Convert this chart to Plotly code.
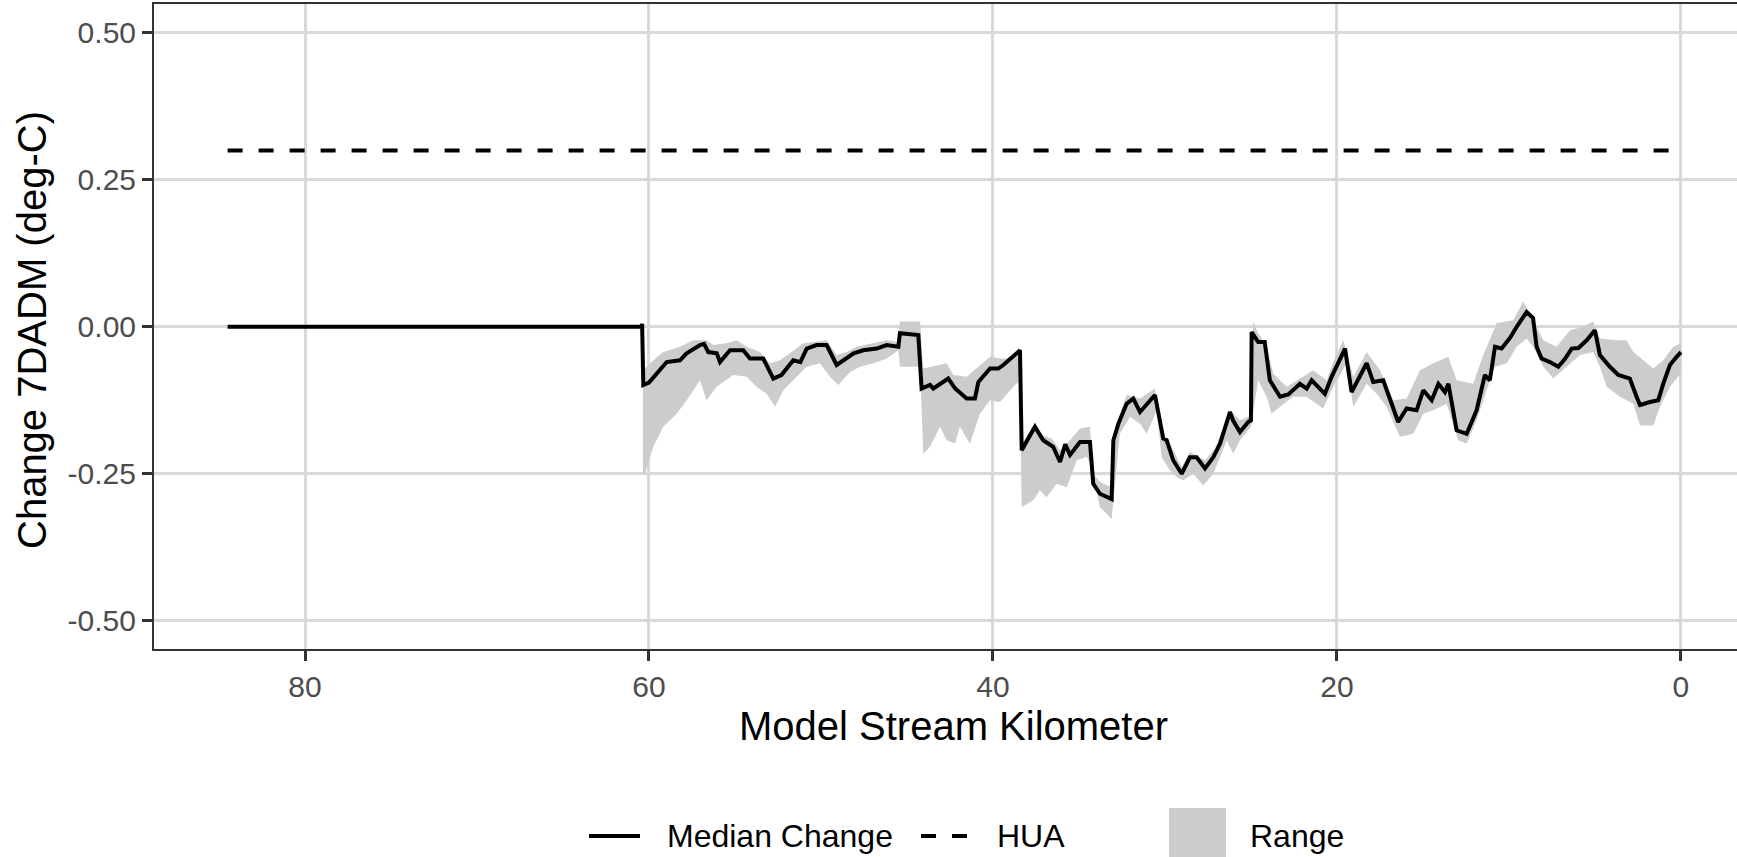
import plotly.graph_objects as go

# ---------------- data ----------------
median_km = [84.5, 60.42, 60.40, 60.33, 60.0, 59.46, 58.97, 58.2, 57.81, 57.03, 56.8, 56.55, 56.06,
             55.87, 55.29, 54.52, 54.13, 53.36, 52.77, 52.3, 51.61, 51.2, 50.83, 50.25, 49.67,
             49.09, 48.5, 48.1, 47.54, 46.76, 46.18, 45.5, 45.41, 44.34, 44.15, 43.66, 43.47,
             42.6, 42.2, 41.53, 41.05, 40.85, 40.17, 39.69, 39.4, 38.82, 38.43, 38.33, 37.56,
             37.08, 36.5, 36.1, 35.8, 35.52, 34.94, 34.36, 34.17, 33.78, 33.1, 33.0, 32.71,
             32.23, 31.84, 31.45, 31.06, 30.58, 30.1, 29.9, 29.52, 29.03, 28.55, 28.16, 27.67,
             27.19, 26.8, 26.22, 26.03, 25.64, 25.16, 25.0, 24.96, 24.58, 24.2, 23.9, 23.31,
             22.83, 22.15, 21.76, 21.47, 20.7, 20.31, 19.92, 19.53, 19.15, 18.66, 18.27, 17.89,
             17.31, 16.44, 15.95, 15.37, 14.98, 14.49, 14.1, 13.72, 13.52, 13.04, 12.46, 11.88,
             11.4, 11.11, 10.81, 10.43, 9.94, 9.55, 8.97, 8.6, 8.39, 8.1, 7.62, 7.13, 6.75, 6.35,
             5.96, 5.48, 5.0, 4.71, 4.13, 3.64, 2.97, 2.58, 2.38, 1.8, 1.32, 1.03, 0.64, 0.25, 0.0]
median_val = [0.0, 0.0, 0.005, -0.099, -0.095, -0.077, -0.06, -0.057, -0.045, -0.031, -0.029, -0.043, -0.045,
              -0.06, -0.04, -0.04, -0.054, -0.054, -0.088, -0.082, -0.057, -0.06, -0.037, -0.031, -0.031,
              -0.065, -0.054, -0.045, -0.04, -0.037, -0.031, -0.034, -0.011, -0.014, -0.105, -0.099, -0.105,
              -0.088, -0.105, -0.122, -0.122, -0.094, -0.071, -0.071, -0.065, -0.051, -0.04, -0.21, -0.17,
              -0.193, -0.204, -0.23, -0.2, -0.218, -0.196, -0.196, -0.267, -0.284, -0.293, -0.193, -0.165,
              -0.131, -0.122, -0.145, -0.131, -0.116, -0.19, -0.193, -0.227, -0.25, -0.222, -0.222, -0.241,
              -0.222, -0.199, -0.145, -0.16, -0.179, -0.162, -0.159, -0.009, -0.026, -0.026, -0.091, -0.119,
              -0.115, -0.097, -0.105, -0.091, -0.114, -0.085, -0.062, -0.037, -0.111, -0.085, -0.062, -0.094,
              -0.091, -0.162, -0.139, -0.142, -0.108, -0.125, -0.097, -0.111, -0.097, -0.176, -0.182, -0.142,
              -0.082, -0.091, -0.034, -0.037, -0.019, 0.0, 0.025, 0.015, -0.034, -0.054, -0.06, -0.068, -0.055, -0.037,
              -0.036, -0.023, -0.006, -0.048, -0.068, -0.082, -0.088, -0.119, -0.133, -0.128, -0.125, -0.097, -0.065, -0.051, -0.043]

upper_km = [60.35, 60.23, 59.75, 59.17, 58.2, 57.42, 56.65, 56.26, 55.48, 54.9, 54.32, 53.55, 52.97,
            52.38, 51.8, 51.03, 50.45, 49.67, 49.09, 48.5, 47.92, 46.96, 46.18, 45.5, 45.41, 44.24,
            44.05, 42.69, 42.31, 41.53, 40.76, 40.17, 39.59, 39.2, 38.43, 38.33, 37.66, 37.08, 36.59,
            36.1, 35.52, 34.94, 34.36, 34.17, 33.78, 33.1, 33.0, 32.23, 31.45, 30.58, 30.1, 29.52,
            29.03, 28.55, 27.67, 27.09, 26.22, 25.64, 25.16, 25.0, 24.87, 24.67, 24.09, 23.7, 22.92,
            21.76, 21.38, 20.6, 20.21, 19.63, 19.05, 18.27, 17.5, 16.73, 15.95, 15.17, 14.4, 13.53,
            13.04, 12.08, 11.49, 10.72, 9.75, 9.17, 8.59, 8.0, 7.23, 6.45, 5.68, 5.1, 4.71, 3.74,
            3.16, 2.77, 2.19, 1.61, 1.03, 0.45, 0.0]
upper_val = [-0.07, -0.071, -0.057, -0.043, -0.034, -0.023, -0.023, -0.031, -0.028, -0.023, -0.034, -0.043, -0.062,
             -0.057, -0.045, -0.028, -0.026, -0.023, -0.048, -0.043, -0.034, -0.028, -0.023, -0.026, 0.009, 0.009,
             -0.071, -0.062, -0.082, -0.085, -0.065, -0.051, -0.054, -0.054, -0.04, -0.2, -0.168, -0.185, -0.19,
             -0.21, -0.193, -0.173, -0.17, -0.25, -0.264, -0.273, -0.182, -0.116, -0.122, -0.105, -0.182, -0.21,
             -0.239, -0.213, -0.227, -0.207, -0.142, -0.159, -0.153, -0.15, 0.009, -0.006, -0.034, -0.08, -0.102,
             -0.08, -0.074, -0.091, -0.06, -0.023, -0.085, -0.043, -0.074, -0.125, -0.122, -0.074, -0.062, -0.051,
             -0.091, -0.097, -0.048, 0.006, 0.011, 0.043, 0.011, -0.023, -0.034, -0.006, 0.0, 0.009, -0.02, -0.023,
             -0.023, -0.043, -0.057, -0.071, -0.057, -0.034, -0.028]

lower_km = [60.35, 60.23, 59.75, 59.17, 58.39, 57.81, 57.03, 56.65, 56.06, 55.1, 54.32, 53.74, 53.16,
            52.67, 52.19, 51.61, 50.83, 50.06, 49.48, 48.99, 48.31, 47.73, 46.96, 46.18, 45.5, 45.41,
            44.24, 44.05, 43.66, 43.08, 42.69, 42.21, 41.92, 41.34, 40.76, 40.17, 39.59, 38.82, 38.43,
            38.33, 37.66, 37.27, 36.88, 36.3, 35.71, 35.13, 34.55, 34.26, 33.78, 33.39, 33.1, 32.91,
            32.62, 32.03, 31.45, 31.06, 30.48, 30.19, 29.71, 29.32, 28.94, 28.35, 27.77, 27.19, 26.8,
            26.41, 26.03, 25.64, 25.16, 25.0, 24.58, 24.09, 23.8, 23.31, 22.54, 21.76, 20.8, 20.21,
            19.44, 19.05, 18.27, 17.69, 17.11, 16.34, 15.56, 14.98, 14.4, 13.62, 12.95, 12.46, 11.88,
            11.3, 10.81, 10.13, 9.55, 8.97, 8.59, 8.0, 7.42, 6.65, 5.87, 5.1, 4.71, 4.32, 3.55, 2.77,
            2.38, 1.61, 1.22, 0.64, 0.0]
lower_val = [-0.25, -0.25, -0.204, -0.17, -0.148, -0.125, -0.091, -0.125, -0.102, -0.082, -0.085, -0.102, -0.114,
             -0.136, -0.108, -0.091, -0.068, -0.062, -0.085, -0.099, -0.077, -0.068, -0.062, -0.054, -0.04, -0.068,
             -0.068, -0.216, -0.204, -0.17, -0.193, -0.199, -0.17, -0.199, -0.148, -0.125, -0.128, -0.102, -0.091,
             -0.307, -0.295, -0.278, -0.29, -0.267, -0.273, -0.227, -0.221, -0.239, -0.307, -0.318, -0.327, -0.273,
             -0.182, -0.153, -0.165, -0.182, -0.142, -0.222, -0.244, -0.256, -0.261, -0.25, -0.27, -0.25, -0.222,
             -0.193, -0.216, -0.193, -0.176, -0.17, -0.091, -0.119, -0.148, -0.136, -0.119, -0.119, -0.139, -0.102,
             -0.062, -0.136, -0.097, -0.114, -0.136, -0.187, -0.182, -0.148, -0.142, -0.131, -0.193, -0.199, -0.159,
             -0.108, -0.068, -0.062, -0.034, -0.02, -0.034, -0.068, -0.088, -0.068, -0.048, -0.043, -0.068, -0.102,
             -0.119, -0.131, -0.168, -0.168, -0.136, -0.102, -0.079]

hua_km = [84.5, 0.0]
hua_val = [0.3, 0.3]

x_ticks = [80, 60, 40, 20, 0]
y_ticks = [-0.50, -0.25, 0.00, 0.25, 0.50]
y_tick_text = ["-0.50", "-0.25", "0.00", "0.25", "0.50"]

legend_labels = ["Median Change", "HUA", "Range"]

# ---------------- figure ----------------
FONT = "Liberation Sans, Arial, Helvetica, sans-serif"
W, H = 1737, 857
ML, MR, MT, MB = 154, 0, 4, 208
PW, PH = W - ML - MR, H - MT - MB


def px(x):
    return (x - ML) / PW


def py(y):
    return (H - MB - y) / PH


fig = go.Figure()

fig.add_trace(go.Scatter(
    x=upper_km + lower_km[::-1], y=upper_val + lower_val[::-1],
    fill="toself", fillcolor="#cccccc", line=dict(width=0), mode="lines",
    hoverinfo="skip", showlegend=False))

fig.add_trace(go.Scatter(
    x=hua_km, y=hua_val, mode="lines",
    line=dict(color="black", width=4, dash="15px,16px"), showlegend=False))

fig.add_trace(go.Scatter(
    x=median_km, y=median_val, mode="lines",
    line=dict(color="black", width=4), showlegend=False))

axis_common = dict(
    showgrid=True, gridcolor="#d9d9d9", gridwidth=2.5,
    zeroline=False, showline=True, linecolor="#333333", linewidth=2,
    ticks="outside", ticklen=10, tickwidth=3, tickcolor="#333333",
    tickfont=dict(family=FONT, size=30, color="#4d4d4d"),
)

fig.update_xaxes(range=[88.78, -3.26], tickvals=x_ticks, ticktext=[str(t) for t in x_ticks],
                 mirror=True, **axis_common)
fig.update_yaxes(range=[-0.548, 0.549], tickvals=y_ticks, ticktext=y_tick_text,
                 mirror=False, **axis_common)

annotations = [
    dict(text="Model Stream Kilometer", xref="paper", yref="paper", x=px(953), y=py(726),
         xanchor="center", yanchor="middle", showarrow=False,
         font=dict(family=FONT, size=40, color="black")),
    dict(text="Change 7DADM (deg-C)", xref="paper", yref="paper", x=px(32), y=py(330),
         xanchor="center", yanchor="middle", textangle=-90, showarrow=False,
         font=dict(family=FONT, size=40, color="black")),
    dict(text=legend_labels[0], xref="paper", yref="paper", x=px(665), y=py(836),
         xanchor="left", yanchor="middle", showarrow=False,
         font=dict(family=FONT, size=32, color="black")),
    dict(text=legend_labels[1], xref="paper", yref="paper", x=px(995), y=py(836),
         xanchor="left", yanchor="middle", showarrow=False,
         font=dict(family=FONT, size=32, color="black")),
    dict(text=legend_labels[2], xref="paper", yref="paper", x=px(1248), y=py(836),
         xanchor="left", yanchor="middle", showarrow=False,
         font=dict(family=FONT, size=32, color="black")),
]

shapes = [
    dict(type="line", xref="paper", yref="paper", x0=px(589), x1=px(640), y0=py(836), y1=py(836),
         line=dict(color="black", width=4)),
    dict(type="line", xref="paper", yref="paper", x0=px(921), x1=px(967), y0=py(836), y1=py(836),
         line=dict(color="black", width=4, dash="15px,16px")),
    dict(type="rect", xref="paper", yref="paper", x0=px(1169), x1=px(1226), y0=py(808), y1=py(865),
         fillcolor="#cccccc", line=dict(width=0)),
]

fig.update_layout(
    width=W, height=H,
    margin=dict(l=ML, r=MR, t=MT, b=MB, pad=0),
    plot_bgcolor="white", paper_bgcolor="white",
    showlegend=False,
    annotations=annotations, shapes=shapes,
    font=dict(family=FONT),
)

fig.write_html("out.html",
               config={"displayModeBar": False},
               post_script="document.body.style.margin='0px';document.body.style.overflow='hidden';")
